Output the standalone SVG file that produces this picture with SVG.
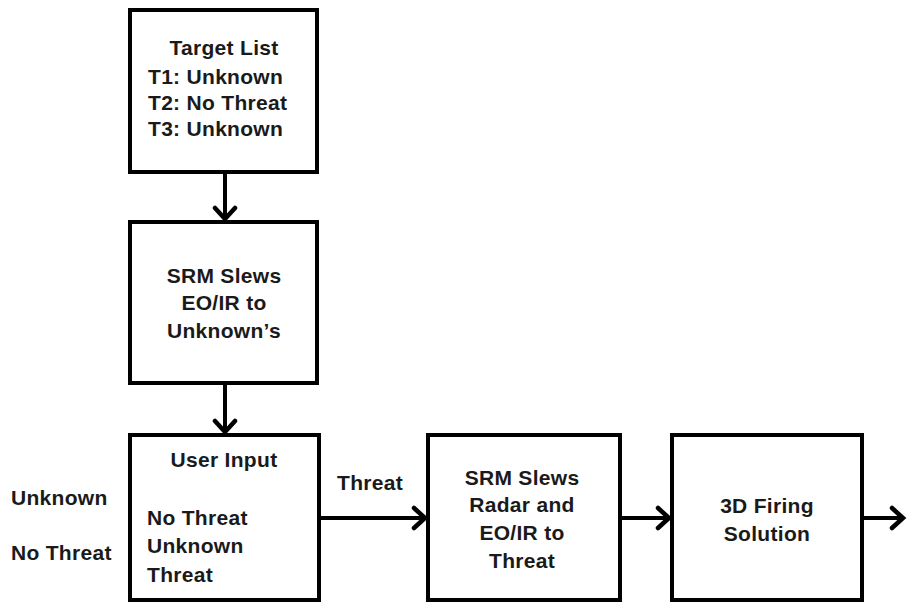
<svg xmlns="http://www.w3.org/2000/svg" width="907" height="605" viewBox="0 0 907 605">
  <defs>
    <style>
      .box { fill: #ffffff; stroke: #000000; stroke-width: 4; }
      .wire { fill: none; stroke: #000000; stroke-width: 4; }
      .t { font-family: "Liberation Sans", Arial, sans-serif; font-size: 21px; font-weight: bold; fill: #1a1a1a; letter-spacing: 0.3px; }
      .c { text-anchor: middle; }
    </style>
    <marker id="chev" markerUnits="userSpaceOnUse" markerWidth="26" markerHeight="26" viewBox="-15 -13 19 26" refX="0" refY="0" orient="auto">
      <path d="M -11 -10 L 0 0 L -11 10" fill="none" stroke="#000000" stroke-width="4.5" stroke-linecap="round" stroke-linejoin="miter"/>
    </marker>
  </defs>
  <rect width="907" height="605" fill="#ffffff"/>

  <g id="connectors">
    <line class="wire" x1="225" y1="172" x2="225" y2="219" marker-end="url(#chev)"/>
    <line class="wire" x1="225" y1="383" x2="225" y2="432" marker-end="url(#chev)"/>
    <line class="wire" x1="319" y1="518" x2="425" y2="518" marker-end="url(#chev)"/>
    <line class="wire" x1="620" y1="518" x2="669" y2="518" marker-end="url(#chev)"/>
    <line class="wire" x1="862" y1="518" x2="903" y2="518" marker-end="url(#chev)"/>
    <text class="t" x="337" y="490">Threat</text>
  </g>

  <g id="target-list">
    <rect class="box" x="130" y="10" width="187" height="162"/>
    <text class="t c" x="224" y="55">Target List</text>
    <text class="t" x="148" y="84">T1: Unknown</text>
    <text class="t" x="148" y="110">T2: No Threat</text>
    <text class="t" x="148" y="136">T3: Unknown</text>
  </g>

  <g id="slew-unknowns">
    <rect class="box" x="130" y="222" width="187" height="161"/>
    <text class="t c" x="224" y="283">SRM Slews</text>
    <text class="t c" x="224" y="310">EO/IR to</text>
    <text class="t c" x="224" y="338">Unknown’s</text>
  </g>

  <g id="user-input">
    <rect class="box" x="130" y="435" width="189" height="165"/>
    <text class="t c" x="224" y="467">User Input</text>
    <text class="t" x="147" y="525">No Threat</text>
    <text class="t" x="147" y="553">Unknown</text>
    <text class="t" x="147" y="582">Threat</text>
  </g>

  <g id="side-labels">
    <text class="t" x="11" y="505">Unknown</text>
    <text class="t" x="11" y="560">No Threat</text>
  </g>

  <g id="slew-threat">
    <rect class="box" x="428" y="435" width="192" height="165"/>
    <text class="t c" x="522" y="485">SRM Slews</text>
    <text class="t c" x="522" y="512">Radar and</text>
    <text class="t c" x="522" y="540">EO/IR to</text>
    <text class="t c" x="522" y="568">Threat</text>
  </g>

  <g id="firing-solution">
    <rect class="box" x="672" y="435" width="190" height="165"/>
    <text class="t c" x="767" y="513">3D Firing</text>
    <text class="t c" x="767" y="541">Solution</text>
  </g>
</svg>
